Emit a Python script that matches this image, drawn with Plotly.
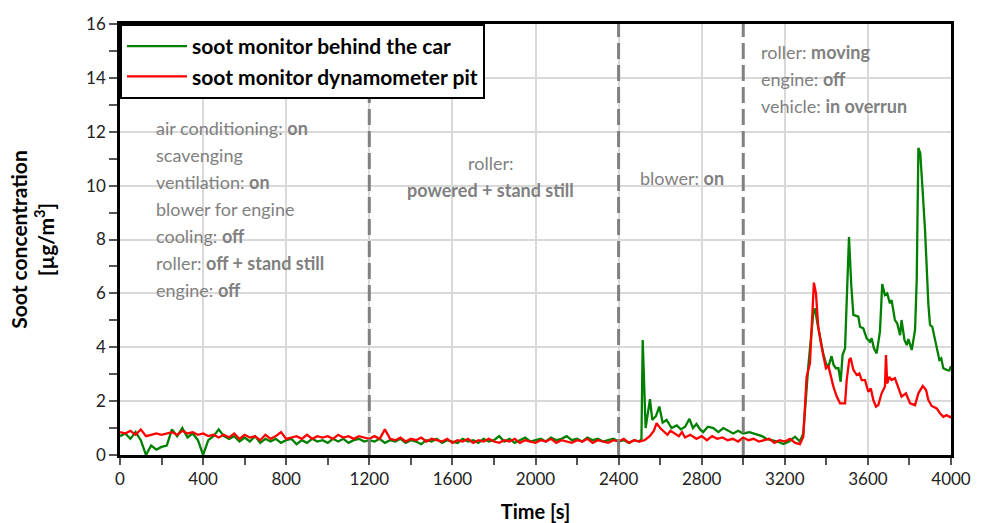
import plotly.graph_objects as go

# ---------------- data ----------------
time_base = list(range(0, 2501, 25))

green_base = [
    0.7, 0.8, 0.6, 0.85, 0.55, 0.0, 0.35, 0.2, 0.3, 0.35,
    0.95, 0.7, 1.0, 0.65, 0.8, 0.55, 0.0, 0.55, 0.7, 0.95,
    0.7, 0.6, 0.7, 0.5, 0.65, 0.5, 0.7, 0.45, 0.6, 0.5,
    0.6, 0.45, 0.55, 0.6, 0.4, 0.55, 0.45, 0.6, 0.5, 0.55,
    0.45, 0.6, 0.5, 0.6, 0.45, 0.55, 0.6, 0.5, 0.55,
    0.5, 0.6, 0.45, 0.55, 0.5, 0.6, 0.45, 0.55, 0.5, 0.4,
    0.55, 0.5, 0.6, 0.45, 0.55, 0.5, 0.45, 0.6, 0.5, 0.55,
    0.45, 0.6, 0.5, 0.55, 0.7, 0.5, 0.6, 0.45, 0.55, 0.65,
    0.5, 0.55, 0.6, 0.5, 0.65, 0.55, 0.6, 0.7, 0.55, 0.6,
    0.5, 0.65, 0.55, 0.6, 0.5, 0.55, 0.6, 0.5, 0.55, 0.45,
    0.55, 0.5,
]

red_base = [
    0.85, 0.8, 0.9, 0.75, 0.95, 0.7, 0.75, 0.8, 0.75, 0.8,
    0.85, 0.75, 0.9, 0.8, 0.85, 0.75, 0.8, 0.7, 0.75, 0.65,
    0.75, 0.65, 0.8, 0.6, 0.75, 0.65, 0.7, 0.55, 0.75, 0.6,
    0.7, 0.85, 0.6, 0.65, 0.7, 0.6, 0.75, 0.6, 0.7, 0.65,
    0.7, 0.6, 0.75, 0.65, 0.7, 0.6, 0.7, 0.65, 0.6,
    0.7, 0.6, 0.95, 0.6, 0.55, 0.65, 0.5, 0.6, 0.55, 0.65,
    0.5, 0.6, 0.55, 0.5, 0.6, 0.45, 0.55, 0.5, 0.6, 0.45,
    0.55, 0.5, 0.6, 0.5, 0.45, 0.55, 0.5, 0.6, 0.45, 0.55,
    0.5, 0.45, 0.55, 0.5, 0.6, 0.45, 0.55, 0.5, 0.45, 0.55,
    0.5, 0.6, 0.45, 0.55, 0.5, 0.45, 0.55, 0.5, 0.6, 0.45,
    0.55, 0.5,
]

time_green_event = [
    2510, 2516, 2530, 2551, 2562, 2580, 2596, 2612, 2631, 2655,
    2680, 2700, 2720, 2741, 2758, 2775, 2792, 2807, 2830, 2856,
    2880, 2904, 2930, 2952, 2975, 3000, 3030, 3064, 3090, 3112,
    3140, 3165, 3193, 3220, 3249, 3273, 3289, 3313, 3337, 3345,
    3357, 3372, 3385, 3398, 3410, 3425, 3435, 3446, 3458, 3469,
    3478, 3490, 3500, 3509, 3520, 3530, 3554, 3562, 3578, 3594,
    3610, 3618, 3629, 3642, 3658, 3669, 3682, 3693, 3706, 3714,
    3730, 3741, 3755, 3762, 3776, 3787, 3795, 3811, 3827, 3835,
    3843, 3852, 3862, 3875, 3891, 3899, 3910, 3923, 3934, 3944,
    3953, 3963, 3979, 3992, 4000,
]
green_event = [
    0.6, 4.27, 1.0, 2.07, 1.3, 1.45, 1.8, 1.2, 1.3, 1.0,
    1.1, 0.95, 1.05, 1.34, 1.0, 1.15, 0.95, 0.85, 1.05, 1.0,
    0.85, 1.0, 0.9, 0.8, 0.9, 0.8, 0.85, 0.75, 0.7, 0.6,
    0.55, 0.5, 0.41, 0.5, 0.68, 0.5, 0.8, 3.28, 5.26, 5.44,
    4.89, 4.27, 3.77, 3.4, 3.28, 3.67, 3.34, 3.22, 3.22, 2.72,
    3.71, 3.96, 6.0, 8.09, 6.3, 5.2, 5.14, 4.76, 4.7, 4.33,
    4.2, 4.33, 3.96, 3.77, 4.58, 6.35, 5.94, 6.0, 5.63, 5.75,
    5.01, 4.89, 4.45, 5.01, 4.27, 4.08, 4.3, 3.9, 4.64, 6.5,
    11.4, 11.2, 10.0, 8.35, 5.6, 4.83, 4.76, 4.33, 3.9, 3.53,
    3.59, 3.22, 3.16, 3.14, 3.3,
]

time_red_event = [
    2525, 2550, 2570, 2583, 2600, 2620, 2635, 2650, 2670, 2690,
    2705, 2720, 2745, 2775, 2800, 2825, 2850, 2875, 2900, 2925,
    2950, 2975, 3000, 3025, 3050, 3075, 3100, 3125, 3150, 3175,
    3200, 3225, 3250, 3273, 3289, 3305, 3321, 3333, 3340, 3350,
    3361, 3377, 3388, 3398, 3410, 3421, 3434, 3450, 3466, 3490,
    3498, 3510, 3517, 3530, 3546, 3559, 3570, 3586, 3602, 3614,
    3626, 3639, 3650, 3666, 3682, 3687, 3693, 3703, 3714, 3730,
    3746, 3762, 3783, 3803, 3827, 3843, 3864, 3880, 3891, 3907,
    3931, 3947, 3963, 3979, 3995, 4000,
]
red_event = [
    0.55, 0.7, 0.9, 1.18, 1.0, 0.85, 0.75, 0.9, 0.8, 0.7,
    0.85, 0.65, 0.75, 0.6, 0.7, 0.55, 0.7, 0.6, 0.65, 0.55,
    0.6, 0.5, 0.65, 0.55, 0.6, 0.5, 0.55, 0.6, 0.45, 0.55,
    0.5, 0.6, 0.45, 0.4, 0.68, 2.9, 3.4, 5.5, 6.4, 6.0,
    4.76, 4.02, 3.6, 3.22, 3.3, 2.91, 2.54, 2.17, 1.92, 1.92,
    2.78, 3.53, 3.6, 3.16, 2.97, 3.03, 2.78, 2.78, 2.35, 2.47,
    2.04, 1.79, 1.85, 2.29, 2.54, 3.71, 2.66, 2.9, 2.78, 2.85,
    2.47, 2.17, 2.29, 1.92, 1.85, 2.29, 2.56, 2.41, 2.04, 1.82,
    1.73, 1.55, 1.42, 1.48, 1.4, 1.45,
]

phase_boundaries = [1200, 2400, 3000]

series_names = ["soot monitor behind the car", "soot monitor dynamometer pit"]

# ---------------- figure ----------------
FONT = "Lato"
GRAY = "#808080"

fig = go.Figure()
fig.add_trace(go.Scatter(
    x=time_base + time_green_event, y=green_base + green_event,
    mode="lines", name="<b>" + series_names[0] + "</b>",
    line=dict(color="#008000", width=2.3),
))
fig.add_trace(go.Scatter(
    x=time_base + time_red_event, y=red_base + red_event,
    mode="lines", name="<b>" + series_names[1] + "</b>",
    line=dict(color="#ff0000", width=2.3),
))

for xb in phase_boundaries:
    fig.add_shape(type="line", xref="x", yref="paper", x0=xb, x1=xb, y0=0, y1=1,
                  line=dict(color=GRAY, width=3, dash="16px,6px"))

ann_font = dict(family=FONT, size=18, color=GRAY)
block1 = [
    "air conditioning: <b>on</b>",
    "scavenging",
    "ventilation: <b>on</b>",
    "blower for engine",
    "cooling: <b>off</b>",
    "roller: <b>off + stand still</b>",
    "engine: <b>off</b>",
]
for i, txt in enumerate(block1):
    fig.add_annotation(x=165, y=12.14 - i * 1.0, text=txt, showarrow=False,
                       xanchor="left", yanchor="middle", font=ann_font)

fig.add_annotation(x=1781, y=10.84, text="roller:", showarrow=False,
                   xanchor="center", yanchor="middle", font=ann_font)
fig.add_annotation(x=1781, y=9.84, text="<b>powered + stand still</b>", showarrow=False,
                   xanchor="center", yanchor="middle", font=ann_font)
fig.add_annotation(x=2705, y=10.28, text="blower: <b>on</b>", showarrow=False,
                   xanchor="center", yanchor="middle", font=ann_font)

block4 = ["roller: <b>moving</b>", "engine: <b>off</b>", "vehicle: <b>in overrun</b>"]
for i, txt in enumerate(block4):
    fig.add_annotation(x=3078, y=14.96 - i * 1.0, text=txt, showarrow=False,
                       xanchor="left", yanchor="middle", font=ann_font)

tick_font = dict(family=FONT, size=17, color="#222222")

fig.update_layout(
    width=984, height=523,
    margin=dict(l=120, r=33, t=24, b=68),
    paper_bgcolor="white", plot_bgcolor="white",
    font=dict(family=FONT, color="black"),
    showlegend=True,
    legend=dict(
        x=0, y=1, xanchor="left", yanchor="top",
        bgcolor="white", bordercolor="black", borderwidth=2,
        font=dict(family=FONT, size=21, color="black"),
        itemwidth=60, tracegroupgap=0,
    ),
    xaxis=dict(
        range=[0, 4000], dtick=400, tick0=0, automargin=False,
        showgrid=True, gridcolor="#d9d9d9", gridwidth=1.5,
        showline=True, linecolor="black", linewidth=2.5, mirror=True,
        ticks="outside", ticklen=7, tickcolor="#555555", tickwidth=1.5,
        minor=dict(dtick=200, ticks="outside", ticklen=7, tickcolor="#555555",
                   tickwidth=1.5, showgrid=False),
        tickfont=tick_font, zeroline=False,
        title=dict(text="<b>Time [s]</b>", font=dict(family=FONT, size=20, color="black"),
                   standoff=18),
    ),
    yaxis=dict(
        range=[0, 16], dtick=2, tick0=0, automargin=False,
        showgrid=True, gridcolor="#d9d9d9", gridwidth=1.5,
        showline=True, linecolor="black", linewidth=2.5, mirror=True,
        ticks="outside", ticklen=8, tickcolor="#555555", tickwidth=1.5,
        minor=dict(dtick=1, ticks="outside", ticklen=8, tickcolor="#555555",
                   tickwidth=1.5, showgrid=False),
        tickfont=tick_font, zeroline=False,
        title=dict(text="<b>Soot concentration</b><br><b>[µg/m<sup>3</sup>]</b>",
                   font=dict(family=FONT, size=21, color="black"), standoff=26),
    ),
)

fig.write_html("out.html")
